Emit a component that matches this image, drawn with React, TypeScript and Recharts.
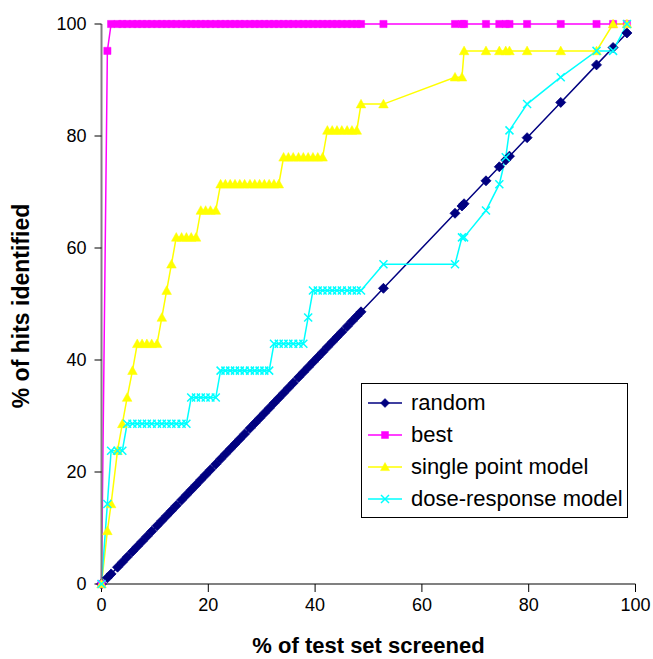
import React from 'react';
import { LineChart, Line, XAxis, YAxis, Label } from 'recharts';

// % of test set screened (shared x positions)
const screenedPct = [
  0, 1.1, 1.8, 3.0, 3.9, 4.8, 5.8, 6.7, 7.6, 8.5, 9.4, 10.4, 11.3, 12.2, 13.1, 14.0,
  15.0, 15.9, 16.8, 17.7, 18.6, 19.5, 20.4, 21.4, 22.3, 23.2, 24.1, 25.0, 25.9, 26.8,
  27.8, 28.7, 29.6, 30.5, 31.4, 32.3, 33.2, 34.1, 35.0, 35.9, 36.9, 37.8, 38.7, 39.6,
  40.5, 41.4, 42.3, 43.2, 44.1, 45.0, 46.0, 46.9, 47.8, 48.6, 52.8, 66.2, 67.5, 67.9,
  72.0, 74.5, 75.7, 76.4, 79.7, 86.0, 92.7, 95.8, 98.4,
];

const randomHits = [
  0, 1.1, 1.8, 3.0, 3.9, 4.8, 5.8, 6.7, 7.6, 8.5, 9.4, 10.4, 11.3, 12.2, 13.1, 14.0,
  15.0, 15.9, 16.8, 17.7, 18.6, 19.5, 20.4, 21.4, 22.3, 23.2, 24.1, 25.0, 25.9, 26.8,
  27.8, 28.7, 29.6, 30.5, 31.4, 32.3, 33.2, 34.1, 35.0, 35.9, 36.9, 37.8, 38.7, 39.6,
  40.5, 41.4, 42.3, 43.2, 44.1, 45.0, 46.0, 46.9, 47.8, 48.6, 52.8, 66.2, 67.5, 67.9,
  72.0, 74.5, 75.7, 76.4, 79.7, 86.0, 92.7, 95.8, 98.4,
];

const bestHits = [
  0, 95.2, 100, 100, 100, 100, 100, 100, 100, 100, 100, 100, 100, 100, 100, 100,
  100, 100, 100, 100, 100, 100, 100, 100, 100, 100, 100, 100, 100, 100,
  100, 100, 100, 100, 100, 100, 100, 100, 100, 100, 100, 100, 100, 100,
  100, 100, 100, 100, 100, 100, 100, 100, 100, 100, 100, 100, 100, 100,
  100, 100, 100, 100, 100, 100, 100, 100, 100,
];

const singlePointHits = [
  0, 9.5, 14.3, 23.8, 28.6, 33.3, 38.1, 42.9, 42.9, 42.9, 42.9, 42.9, 47.6, 52.4, 57.1, 61.9,
  61.9, 61.9, 61.9, 61.9, 66.7, 66.7, 66.7, 66.7, 71.4, 71.4, 71.4, 71.4, 71.4, 71.4,
  71.4, 71.4, 71.4, 71.4, 71.4, 71.4, 71.4, 76.2, 76.2, 76.2, 76.2, 76.2, 76.2, 76.2,
  76.2, 76.2, 81.0, 81.0, 81.0, 81.0, 81.0, 81.0, 81.0, 85.7, 85.7, 90.5, 90.5, 95.2,
  95.2, 95.2, 95.2, 95.2, 95.2, 95.2, 95.2, 100, 100,
];

const doseResponseHits = [
  0, 14.3, 23.8, 23.8, 23.8, 28.6, 28.6, 28.6, 28.6, 28.6, 28.6, 28.6, 28.6, 28.6, 28.6, 28.6,
  28.6, 28.6, 33.3, 33.3, 33.3, 33.3, 33.3, 33.3, 38.1, 38.1, 38.1, 38.1, 38.1, 38.1,
  38.1, 38.1, 38.1, 38.1, 38.1, 42.9, 42.9, 42.9, 42.9, 42.9, 42.9, 42.9, 47.6, 52.4,
  52.4, 52.4, 52.4, 52.4, 52.4, 52.4, 52.4, 52.4, 52.4, 52.4, 57.1, 57.1, 61.9, 61.9,
  66.7, 71.4, 76.2, 81.0, 85.7, 90.5, 95.2, 95.2, 100,
];

const axisTicks = [0, 20, 40, 60, 80, 100];
const seriesNames = ['random', 'best', 'single point model', 'dose-response model'];
const xTitle = '% of test set screened';
const yTitle = '% of hits identified';

const data = screenedPct.map((x, i) => ({
  x,
  random: randomHits[i],
  best: bestHits[i],
  single: singlePointHits[i],
  dose: doseResponseHits[i],
}));

const FONT = '"Liberation Sans", Arial, Helvetica, sans-serif';
const NAVY = '#000080';
const MAGENTA = '#FF00FF';
const YELLOW = '#FFFF00';
const CYAN = '#00FFFF';

const diamondPath = (cx: number, cy: number, r: number) =>
  `M${cx},${cy - r}L${cx + r},${cy}L${cx},${cy + r}L${cx - r},${cy}Z`;
const squarePath = (cx: number, cy: number, r: number) =>
  `M${cx - r},${cy - r}H${cx + r}V${cy + r}H${cx - r}Z`;
const trianglePath = (cx: number, cy: number, r: number) =>
  `M${cx},${cy - r}L${cx + r},${cy + r * 0.8}L${cx - r},${cy + r * 0.8}Z`;
const crossPath = (cx: number, cy: number, r: number) =>
  `M${cx - r},${cy - r}L${cx + r},${cy + r}M${cx - r},${cy + r}L${cx + r},${cy - r}`;

const DiamondDot = (p: any) => {
  const { cx, cy, index } = p;
  if (cx == null || cy == null) return <g key={`rd${index}`} />;
  return <path key={`rd${index}`} d={diamondPath(cx, cy, 5)} fill={NAVY} stroke={NAVY} strokeWidth={0.8} />;
};
const SquareDot = (p: any) => {
  const { cx, cy, index } = p;
  if (cx == null || cy == null) return <g key={`bd${index}`} />;
  return <path key={`bd${index}`} d={squarePath(cx, cy, 3.6)} fill={MAGENTA} stroke={MAGENTA} strokeWidth={0.5} />;
};
const TriangleDot = (p: any) => {
  const { cx, cy, index } = p;
  if (cx == null || cy == null) return <g key={`sd${index}`} />;
  return <path key={`sd${index}`} d={trianglePath(cx, cy, 4.8)} fill={YELLOW} stroke={YELLOW} strokeWidth={0.5} />;
};
const CrossDot = (p: any) => {
  const { cx, cy, index } = p;
  if (cx == null || cy == null) return <g key={`cd${index}`} />;
  return <path key={`cd${index}`} d={crossPath(cx, cy, 4)} fill="none" stroke={CYAN} strokeWidth={1.5} />;
};

const legendMarkers = [
  { name: seriesNames[0], color: NAVY, d: (cx: number, cy: number) => diamondPath(cx, cy, 4.5), fill: true },
  { name: seriesNames[1], color: MAGENTA, d: (cx: number, cy: number) => squarePath(cx, cy, 3.5), fill: true },
  { name: seriesNames[2], color: YELLOW, d: (cx: number, cy: number) => trianglePath(cx, cy, 4.5), fill: true },
  { name: seriesNames[3], color: CYAN, d: (cx: number, cy: number) => crossPath(cx, cy, 4), fill: false },
];

const LegendBox = () => (
  <div
    style={{
      position: 'absolute',
      left: 361,
      top: 383,
      width: 267,
      height: 135,
      border: '1px solid #000',
      boxSizing: 'border-box',
      background: '#fff',
      fontFamily: FONT,
      fontSize: 22,
      color: '#000',
      paddingTop: 3,
    }}
  >
    {legendMarkers.map((m) => (
      <div key={m.name} style={{ display: 'flex', alignItems: 'center', height: 32 }}>
        <svg width={49} height={32} style={{ display: 'block' }}>
          <line x1={6} y1={16} x2={40} y2={16} stroke={m.color} strokeWidth={1.5} />
          <path
            d={m.d(23, 16)}
            fill={m.fill ? m.color : 'none'}
            stroke={m.color}
            strokeWidth={m.fill ? 0.5 : 1.5}
          />
        </svg>
        <span style={{ whiteSpace: 'nowrap', lineHeight: '32px' }}>{m.name}</span>
      </div>
    ))}
  </div>
);

const tickStyle = { fill: '#000', fontSize: 18, fontFamily: FONT };

export default function App() {
  return (
    <div style={{ position: 'absolute', left: 0, top: 0, width: 653, height: 659, background: '#fff' }}>
      <LineChart
        width={653}
        height={659}
        data={data}
        margin={{ top: 24, right: 17.5, left: 0, bottom: 0 }}
      >
        <XAxis
          dataKey="x"
          type="number"
          domain={[0, 100]}
          ticks={axisTicks}
          interval={0}
          height={75}
          tickSize={8}
          tickMargin={6}
          axisLine={{ stroke: '#808080', strokeWidth: 2 }}
          tickLine={{ stroke: '#000', strokeWidth: 1 }}
          tick={tickStyle}
        >
          <Label
            content={() => (
              <text
                x={368.5}
                y={645}
                textAnchor="middle"
                dominantBaseline="central"
                fontFamily={FONT}
                fontWeight="bold"
                fontSize={22}
                fill="#000"
              >
                {xTitle}
              </text>
            )}
          />
        </XAxis>
        <YAxis
          type="number"
          domain={[0, 100]}
          ticks={axisTicks}
          interval={0}
          width={101.5}
          tickSize={7}
          tickMargin={8}
          axisLine={{ stroke: '#808080', strokeWidth: 2 }}
          tickLine={{ stroke: '#000', strokeWidth: 1 }}
          tick={tickStyle}
        >
          <Label
            content={() => (
              <text
                x={21}
                y={306}
                transform="rotate(-90 21 306)"
                textAnchor="middle"
                dominantBaseline="central"
                fontFamily={FONT}
                fontWeight="bold"
                fontSize={23}
                fill="#000"
              >
                {yTitle}
              </text>
            )}
          />
        </YAxis>
        <Line
          type="linear"
          dataKey="random"
          name={seriesNames[0]}
          stroke={NAVY}
          strokeWidth={1.5}
          dot={DiamondDot}
          activeDot={false}
          isAnimationActive={false}
        />
        <Line
          type="linear"
          dataKey="best"
          name={seriesNames[1]}
          stroke={MAGENTA}
          strokeWidth={1.5}
          dot={SquareDot}
          activeDot={false}
          isAnimationActive={false}
        />
        <Line
          type="linear"
          dataKey="single"
          name={seriesNames[2]}
          stroke={YELLOW}
          strokeWidth={1.5}
          dot={TriangleDot}
          activeDot={false}
          isAnimationActive={false}
        />
        <Line
          type="linear"
          dataKey="dose"
          name={seriesNames[3]}
          stroke={CYAN}
          strokeWidth={1.5}
          dot={CrossDot}
          activeDot={false}
          isAnimationActive={false}
        />
      </LineChart>
      <LegendBox />
    </div>
  );
}
